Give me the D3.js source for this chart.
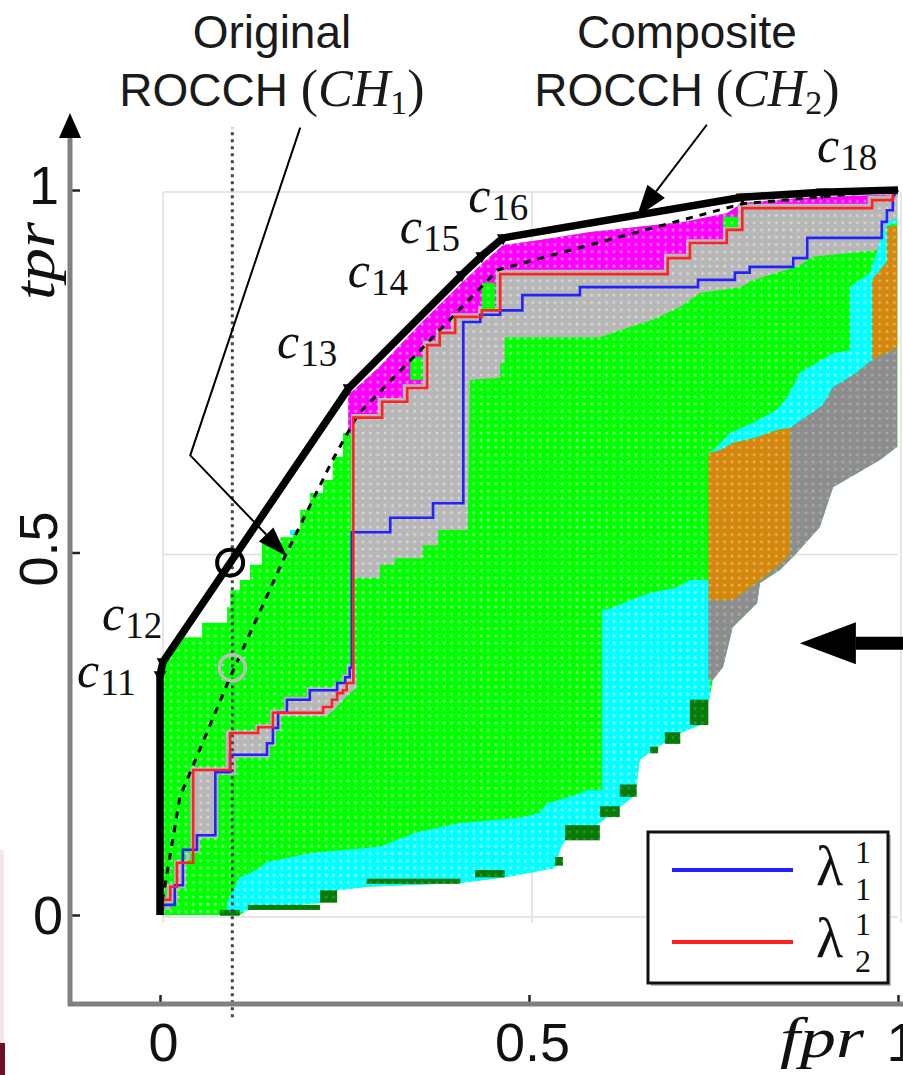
<!DOCTYPE html>
<html>
<head>
<meta charset="utf-8">
<script src="https://cdn.jsdelivr.net/npm/d3@7"></script>
<style>
  body { margin: 0; background: #fff; }
  svg { display: block; }
</style>
</head>
<body>
<svg id="chart" width="903" height="1075"></svg>
<script>
// ---- data (fpr, tpr) ----
const fprTicks = [0, 0.5, 1];
const tprTicks = [0, 0.5, 1];

// composite ROCCH (CH2) vertices, c11..c18
const composite = [[0,0],[0,0.331],[0.004,0.349],[0.256,0.727],[0.409,0.883],[0.436,0.909],[0.465,0.934],[0.789,0.990],[0.897,0.997],[1,1]];
const compositeNames = [null,'11','12','13','14','15','16','17','18',null];

// original ROCCH (CH1)
const original = [[0,0],[0.027,0.163],[0.095,0.328],[0.169,0.494],[0.234,0.628],[0.268,0.690],[0.458,0.890],[0.789,0.981],[1,1]];

// lambda_1^1 (blue) and lambda_2^1 (red) ROC curves
const lambda1 = [[0.003,0],[0.003,0.014],[0.020,0.014],[0.020,0.041],[0.031,0.041],[0.031,0.090],[0.050,0.090],[0.050,0.110],[0.075,0.110],[0.075,0.197],[0.095,0.197],[0.095,0.221],[0.145,0.221],[0.145,0.237],[0.153,0.237],[0.153,0.258],[0.160,0.258],[0.160,0.279],[0.172,0.279],[0.172,0.297],[0.203,0.297],[0.203,0.310],[0.240,0.310],[0.240,0.320],[0.251,0.320],[0.251,0.328],[0.257,0.328],[0.257,0.341],[0.260,0.341],[0.260,0.528],[0.312,0.528],[0.312,0.548],[0.370,0.548],[0.370,0.568],[0.411,0.568],[0.411,0.818],[0.434,0.818],[0.434,0.828],[0.461,0.828],[0.461,0.834],[0.491,0.834],[0.491,0.855],[0.569,0.855],[0.569,0.866],[0.729,0.866],[0.729,0.876],[0.779,0.876],[0.779,0.886],[0.799,0.886],[0.799,0.894],[0.858,0.894],[0.858,0.906],[0.877,0.906],[0.877,0.934],[0.978,0.934],[0.978,0.956],[0.985,0.956],[0.985,0.972],[0.993,0.972],[0.993,0.990],[1,1]];
const lambda2 = [[0.003,0],[0.003,0.021],[0.014,0.021],[0.014,0.039],[0.023,0.039],[0.023,0.072],[0.045,0.072],[0.045,0.200],[0.095,0.200],[0.095,0.251],[0.133,0.251],[0.133,0.259],[0.153,0.259],[0.153,0.279],[0.221,0.279],[0.221,0.287],[0.233,0.287],[0.233,0.297],[0.240,0.297],[0.240,0.306],[0.248,0.306],[0.248,0.310],[0.253,0.310],[0.253,0.320],[0.262,0.320],[0.262,0.686],[0.301,0.686],[0.301,0.708],[0.335,0.708],[0.335,0.727],[0.362,0.727],[0.362,0.786],[0.379,0.786],[0.379,0.803],[0.400,0.803],[0.400,0.825],[0.436,0.825],[0.436,0.834],[0.461,0.834],[0.461,0.884],[0.688,0.884],[0.688,0.906],[0.718,0.906],[0.718,0.927],[0.768,0.927],[0.768,0.945],[0.789,0.945],[0.789,0.975],[0.965,0.975],[0.965,0.986],[0.993,0.986],[0.993,0.997],[1,1]];

// coloured regions of the map
const greenArea = [[0,0],[0,0.331],[0.004,0.349],[0.020,0.366],[0.030,0.383],[0.057,0.383],[0.057,0.403],[0.091,0.403],[0.091,0.425],[0.095,0.425],[0.095,0.448],[0.108,0.448],[0.108,0.462],[0.122,0.462],[0.122,0.483],[0.138,0.483],[0.138,0.513],[0.163,0.513],[0.163,0.521],[0.180,0.521],[0.180,0.531],[0.190,0.531],[0.190,0.559],[0.203,0.559],[0.203,0.582],[0.221,0.582],[0.221,0.600],[0.234,0.600],[0.234,0.632],[0.248,0.632],[0.248,0.665],[0.255,0.665],[0.255,0.717],[0.298,0.757],[0.352,0.815],[0.409,0.872],[0.436,0.898],[0.465,0.924],[0.515,0.931],[0.583,0.942],[0.709,0.956],[0.768,0.968],[0.789,0.982],[0.867,0.989],[0.999,0.994],[0.999,0.646],[0.976,0.628],[0.912,0.590],[0.894,0.535],[0.858,0.494],[0.840,0.476],[0.813,0.458],[0.809,0.430],[0.776,0.397],[0.763,0.342],[0.749,0.324],[0.745,0.301],[0.732,0.262],[0.705,0.251],[0.668,0.228],[0.650,0.214],[0.646,0.182],[0.641,0.163],[0.623,0.149],[0.596,0.127],[0.549,0.103],[0.542,0.090],[0.535,0.065],[0.467,0.052],[0.407,0.044],[0.280,0.039],[0.240,0.034],[0.217,0.017],[0.119,0.007],[0.108,0],[0,0]];
const cyanLow = [[0.743,0.462],[0.718,0.462],[0.701,0.452],[0.664,0.444],[0.637,0.434],[0.606,0.421],[0.599,0.421],[0.599,0.172],[0.579,0.172],[0.556,0.163],[0.524,0.154],[0.515,0.141],[0.488,0.134],[0.407,0.127],[0.348,0.114],[0.298,0.094],[0.207,0.086],[0.145,0.073],[0.131,0.062],[0.108,0.052],[0.099,0.034],[0.091,0.017],[0.091,0.004],[0.108,0.003],[0.119,0.007],[0.217,0.017],[0.240,0.034],[0.280,0.039],[0.407,0.044],[0.467,0.052],[0.535,0.065],[0.542,0.090],[0.549,0.103],[0.596,0.127],[0.623,0.149],[0.641,0.163],[0.646,0.182],[0.650,0.214],[0.668,0.228],[0.705,0.251],[0.732,0.262],[0.745,0.301],[0.745,0.462]];
const cyanHigh = [[0.985,0.956],[0.976,0.931],[0.972,0.917],[0.962,0.886],[0.935,0.866],[0.935,0.779],[0.912,0.775],[0.867,0.748],[0.850,0.714],[0.836,0.697],[0.804,0.679],[0.772,0.665],[0.755,0.646],[0.743,0.637],[0.759,0.641],[0.776,0.651],[0.809,0.659],[0.836,0.669],[0.854,0.672],[0.898,0.703],[0.912,0.728],[0.944,0.748],[0.965,0.766],[0.965,0.876],[0.985,0.901],[0.985,0.950],[0.999,0.956],[0.999,0.961]];
const orangeHigh = [[0.985,0.950],[0.999,0.950],[0.999,0.782],[0.965,0.766],[0.965,0.876],[0.985,0.901]];
const orangeLow = [[0.743,0.637],[0.759,0.641],[0.776,0.651],[0.809,0.659],[0.836,0.669],[0.854,0.672],[0.854,0.497],[0.836,0.480],[0.813,0.462],[0.790,0.444],[0.776,0.434],[0.743,0.434]];
const darkGrayArea = [[0.999,0.782],[0.999,0.646],[0.976,0.628],[0.912,0.590],[0.894,0.535],[0.858,0.494],[0.840,0.476],[0.813,0.458],[0.809,0.430],[0.776,0.397],[0.763,0.342],[0.749,0.324],[0.743,0.324],[0.743,0.434],[0.776,0.434],[0.790,0.444],[0.813,0.462],[0.836,0.480],[0.854,0.497],[0.854,0.672],[0.898,0.703],[0.912,0.728],[0.944,0.748],[0.965,0.766]];
const magentaBand = [[0.255,0.717],[0.298,0.757],[0.352,0.815],[0.409,0.872],[0.436,0.898],[0.465,0.924],[0.515,0.931],[0.583,0.942],[0.709,0.956],[0.768,0.968],[0.789,0.982],[0.867,0.989],[0.999,0.994],[0.999,0.990],[0.993,0.986],[0.965,0.986],[0.965,0.975],[0.789,0.975],[0.789,0.945],[0.768,0.945],[0.768,0.927],[0.718,0.927],[0.718,0.906],[0.688,0.906],[0.688,0.884],[0.461,0.884],[0.461,0.834],[0.436,0.834],[0.436,0.825],[0.400,0.825],[0.400,0.803],[0.379,0.803],[0.379,0.786],[0.362,0.786],[0.362,0.727],[0.335,0.727],[0.335,0.708],[0.301,0.708],[0.301,0.686],[0.262,0.686],[0.262,0.665],[0.255,0.665]];
const grayUpper = [[0.259,0.465],[0.259,0.691],[0.295,0.691],[0.295,0.713],[0.329,0.713],[0.329,0.732],[0.356,0.732],[0.356,0.792],[0.374,0.792],[0.374,0.808],[0.394,0.808],[0.394,0.830],[0.431,0.830],[0.431,0.840],[0.455,0.840],[0.455,0.890],[0.683,0.890],[0.683,0.912],[0.713,0.912],[0.713,0.932],[0.763,0.932],[0.763,0.950],[0.783,0.950],[0.783,0.981],[0.959,0.981],[0.959,0.992],[0.988,0.992],[0.988,0.996],[0.999,0.996],[0.999,0.961],[0.985,0.956],[0.976,0.931],[0.972,0.917],[0.885,0.908],[0.863,0.894],[0.804,0.876],[0.786,0.866],[0.732,0.858],[0.705,0.839],[0.668,0.821],[0.637,0.811],[0.596,0.797],[0.467,0.797],[0.467,0.761],[0.461,0.761],[0.461,0.741],[0.420,0.738],[0.417,0.531],[0.377,0.531],[0.377,0.510],[0.356,0.510],[0.356,0.492],[0.318,0.492],[0.318,0.483],[0.298,0.483],[0.298,0.465]];
const grayLower = [[0.007,0.007],[0.007,0.025],[0.009,0.025],[0.009,0.043],[0.019,0.043],[0.019,0.076],[0.041,0.076],[0.041,0.204],[0.089,0.204],[0.089,0.255],[0.129,0.255],[0.129,0.263],[0.149,0.263],[0.149,0.283],[0.168,0.283],[0.168,0.301],[0.199,0.301],[0.199,0.314],[0.236,0.314],[0.236,0.321],[0.247,0.321],[0.247,0.332],[0.253,0.332],[0.253,0.345],[0.266,0.345],[0.266,0.313],[0.257,0.306],[0.252,0.301],[0.244,0.292],[0.236,0.283],[0.225,0.274],[0.164,0.274],[0.164,0.254],[0.157,0.254],[0.157,0.233],[0.149,0.233],[0.149,0.217],[0.103,0.217],[0.103,0.193],[0.079,0.193],[0.079,0.106],[0.054,0.106],[0.054,0.086],[0.035,0.086],[0.035,0.037],[0.024,0.037],[0.024,0.017],[0.014,0.017],[0.014,0.007]];
// small patches [fpr0, fpr1, tpr0, tpr1]
const greenPatches = [[0.339,0.356,0.738,0.770],[0.436,0.454,0.834,0.872],[0.763,0.783,0.949,0.963]];
const cyanPatches = [[0.176,0.184,0.524,0.531]];
const darkGreenPatches = [[0.081,0.108,-0.001,0.007],[0.119,0.217,0.007,0.014],[0.217,0.240,0.017,0.034],[0.280,0.407,0.043,0.050],[0.427,0.467,0.052,0.062],[0.549,0.596,0.103,0.124],[0.535,0.546,0.068,0.080],[0.596,0.623,0.135,0.150],[0.623,0.646,0.163,0.180],[0.664,0.675,0.223,0.232],[0.684,0.705,0.236,0.252],[0.718,0.743,0.262,0.297]];

// operating points marked with circles, threshold line
const markedFpr = 0.098;
const blackCircle = [0.095, 0.486];
const grayCircle = [0.098, 0.341];

// ---- drawing ----
const svg = d3.select('#chart');
const x = d3.scaleLinear().domain([0, 1]).range([160, 898]);
const y = d3.scaleLinear().domain([0, 1]).range([915, 190]);
const line = d3.line().x(d => x(d[0])).y(d => y(d[1]));
const sans = "'Liberation Sans', Arial, sans-serif";
const serif = "'Liberation Serif', 'Times New Roman', serif";

// textured fills (one cell per 0.01 fpr/tpr)
const fills = {
  green: ['#00ff00', '#8cff8c'],
  gray: ['#b7b7b7', '#d8d8d8'],
  magenta: ['#ff00ff', '#ff8cff'],
  cyan: ['#00ffff', '#a0ffff'],
  orange: ['#d4870d', '#e8b25e'],
  dgray: ['#8d8d8d', '#ababab'],
  dgreen: ['#077a07', '#2e9a2e']
};
const cw = x(0.01) - x(0), ch = y(0) - y(0.01);
const defs = svg.append('defs');
Object.entries(fills).forEach(([k, c]) => {
  const p = defs.append('pattern').attr('id', 'pat-' + k)
    .attr('patternUnits', 'userSpaceOnUse')
    .attr('x', x(0)).attr('y', y(1)).attr('width', cw).attr('height', ch);
  p.append('rect').attr('width', cw).attr('height', ch).attr('fill', c[0]);
  p.append('rect').attr('x', 2.5).attr('y', 2.5).attr('width', 2.5).attr('height', 2.5).attr('fill', c[1]);
});

// left border strip of the page
svg.append('rect').attr('x', 0).attr('y', 850).attr('width', 4).attr('height', 193).attr('fill', '#f2e8e8');
svg.append('rect').attr('x', 0).attr('y', 1043).attr('width', 5).attr('height', 32).attr('fill', '#6d1222');

// grid
const grid = svg.append('g').attr('stroke', '#dedede').attr('stroke-width', 1.5);
fprTicks.forEach(v => grid.append('line').attr('x1', x(v) + 3).attr('x2', x(v) + 3).attr('y1', y(1) + 2).attr('y2', y(0) + 8));
tprTicks.forEach(v => grid.append('line').attr('x1', x(0) + 3).attr('x2', x(1)).attr('y1', y(v) + 2).attr('y2', y(v) + 2));

// regions
const regions = [
  [greenArea, 'green'], [cyanLow, 'cyan'], [cyanHigh, 'cyan'], [orangeHigh, 'orange'],
  [orangeLow, 'orange'], [darkGrayArea, 'dgray'], [magentaBand, 'magenta'],
  [grayUpper, 'gray'], [grayLower, 'gray']
];
svg.append('g').selectAll('path').data(regions).join('path')
  .attr('d', d => line(d[0]) + 'Z')
  .attr('fill', d => 'url(#pat-' + d[1] + ')');

const patch = (data, key) => svg.append('g').selectAll('rect').data(data).join('rect')
  .attr('x', d => x(d[0])).attr('width', d => x(d[1]) - x(d[0]))
  .attr('y', d => y(d[3])).attr('height', d => y(d[2]) - y(d[3]))
  .attr('fill', 'url(#pat-' + key + ')');
patch(greenPatches, 'green');
patch(cyanPatches, 'cyan');
patch(darkGreenPatches, 'dgreen');

// threshold line
svg.append('line')
  .attr('x1', x(markedFpr)).attr('x2', x(markedFpr))
  .attr('y1', y(-0.141)).attr('y2', y(1.086))
  .attr('stroke', '#444').attr('stroke-width', 3).attr('stroke-dasharray', '3,4');

// original ROCCH (dashed)
svg.append('path').attr('d', line(original)).attr('fill', 'none')
  .attr('stroke', '#000').attr('stroke-width', 3).attr('stroke-dasharray', '7,7');

// ROC curves
svg.append('path').attr('d', line(lambda1)).attr('fill', 'none')
  .attr('stroke', '#2222ff').attr('stroke-width', 2.6);
svg.append('path').attr('d', line(lambda2)).attr('fill', 'none')
  .attr('stroke', '#ff2222').attr('stroke-width', 2.6);

// composite ROCCH
svg.append('path').attr('d', line(composite)).attr('fill', 'none')
  .attr('stroke', '#000').attr('stroke-width', 7.5).attr('stroke-linejoin', 'round');
svg.append('g').selectAll('path').data(composite.filter((d, i) => compositeNames[i])).join('path')
  .attr('transform', d => `translate(${x(d[0])},${y(d[1])}) rotate(180)`)
  .attr('d', d3.symbol(d3.symbolTriangle, 70))
  .attr('fill', '#000');

// c labels
const labelNudge = { '11': [-83, 12], '12': [-61, -32], '13': [-72, -30], '14': [-114, 12], '15': [-82, -13], '16': [-35, -26], '18': [-5, -30] };
composite.forEach((d, i) => {
  const n = compositeNames[i];
  if (!n || !labelNudge[n]) return;
  const t = svg.append('text')
    .attr('x', x(d[0]) + labelNudge[n][0]).attr('y', y(d[1]) + labelNudge[n][1])
    .attr('font-family', serif).attr('fill', '#111');
  t.append('tspan').attr('font-style', 'italic').attr('font-size', 50).text('c');
  t.append('tspan').attr('font-size', 37).attr('dx', 1).attr('dy', 8).text(n);
});

// circles
svg.append('circle').attr('cx', x(blackCircle[0])).attr('cy', y(blackCircle[1])).attr('r', 13)
  .attr('fill', 'none').attr('stroke', '#000').attr('stroke-width', 4);
svg.append('circle').attr('cx', x(grayCircle[0])).attr('cy', y(grayCircle[1])).attr('r', 13)
  .attr('fill', 'none').attr('stroke', '#bdbdbd').attr('stroke-width', 3.5);

// annotation arrows
function arrow(pts, width, headLen, headHalf) {
  const p = pts.map(d => [x(d[0]), y(d[1])]);
  const a = p[p.length - 2], b = p[p.length - 1];
  const L = Math.hypot(b[0] - a[0], b[1] - a[1]);
  const ux = (b[0] - a[0]) / L, uy = (b[1] - a[1]) / L;
  const base = [b[0] - ux * headLen, b[1] - uy * headLen];
  const shaft = p.slice(0, -1).concat([base]);
  svg.append('path').attr('d', d3.line()(shaft)).attr('fill', 'none')
    .attr('stroke', '#000').attr('stroke-width', width);
  svg.append('path').attr('d', d3.line()([b, [base[0] - uy * headHalf, base[1] + ux * headHalf], [base[0] + uy * headHalf, base[1] - ux * headHalf]]) + 'Z')
    .attr('fill', '#000');
}
arrow([[0.190, 1.086], [0.041, 0.634], [0.172, 0.495]], 2, 30, 10);
arrow([[0.741, 1.090], [0.646, 0.963]], 2, 32, 11);
arrow([[1.01, 0.375], [0.867, 0.375]], 13, 56, 21);

// titles
function title(cx, word, sub) {
  svg.append('text').attr('x', cx).attr('y', 48).attr('text-anchor', 'middle')
    .attr('font-family', sans).attr('font-size', 46).attr('fill', '#1a1a1a').text(word);
  const t = svg.append('text').attr('x', cx).attr('y', 106).attr('text-anchor', 'middle')
    .attr('fill', '#1a1a1a');
  t.append('tspan').attr('font-family', sans).attr('font-size', 46).text('ROCCH\u00a0');
  t.append('tspan').attr('font-family', serif).attr('font-size', 52).text('(');
  t.append('tspan').attr('font-family', serif).attr('font-style', 'italic').attr('font-size', 52).text('CH');
  t.append('tspan').attr('font-family', serif).attr('font-size', 34).attr('dy', 8).text(sub);
  t.append('tspan').attr('font-family', serif).attr('font-size', 52).attr('dy', -8).text(')');
}
title(272, 'Original', '1');
title(687, 'Composite', '2');

// axes
const yAxis = d3.axisLeft(y).tickValues(tprTicks).tickSize(-10).tickSizeOuter(0).tickFormat(d3.format('~g'));
const gy = svg.append('g').attr('transform', 'translate(70,0)').call(yAxis);
gy.select('.domain').remove();
gy.selectAll('.tick line').attr('stroke', '#222').attr('stroke-width', 2.5);
gy.selectAll('.tick text')
  .attr('font-family', sans).attr('font-size', 54).attr('fill', '#111')
  .attr('text-anchor', 'middle').attr('x', 0).attr('y', 0).attr('dy', null)
  .attr('transform', d => d === 0.5 ? 'translate(-13,-4) rotate(-90)' : (d === 1 ? 'translate(-26,13)' : 'translate(-22,18)'));

const xAxis = d3.axisBottom(x).tickValues(fprTicks).tickSize(-9).tickSizeOuter(0).tickFormat(d3.format('~g'));
const gx = svg.append('g').attr('transform', 'translate(0,1004)').call(xAxis);
gx.select('.domain').remove();
gx.selectAll('.tick line').attr('stroke', '#222').attr('stroke-width', 2.5);
gx.selectAll('.tick text')
  .attr('font-family', sans).attr('font-size', 54).attr('fill', '#111')
  .attr('y', 57).attr('dy', null).attr('x', 3);

svg.append('line').attr('x1', 70).attr('x2', 70).attr('y1', 1006).attr('y2', 136)
  .attr('stroke', '#808080').attr('stroke-width', 5);
svg.append('line').attr('x1', 68).attr('x2', 903).attr('y1', 1004).attr('y2', 1004)
  .attr('stroke', '#808080').attr('stroke-width', 5);
svg.append('path').attr('d', 'M70,113L59,138L81,138Z').attr('fill', '#000');

svg.append('text').attr('transform', 'translate(54,261) rotate(-90)')
  .attr('text-anchor', 'middle').attr('font-family', serif).attr('font-style', 'italic')
  .attr('font-size', 56).attr('fill', '#111')
  .attr('textLength', 78).attr('lengthAdjust', 'spacingAndGlyphs').text('tpr');
svg.append('text').attr('x', 780).attr('y', 1057)
  .attr('font-family', serif).attr('font-style', 'italic')
  .attr('font-size', 56).attr('fill', '#111')
  .attr('textLength', 84).attr('lengthAdjust', 'spacingAndGlyphs').text('fpr');

// legend
const lg = svg.append('g');
lg.append('rect').attr('x', 651).attr('y', 835).attr('width', 240).attr('height', 151).attr('fill', '#bdbdbd');
lg.append('rect').attr('x', 648).attr('y', 832).attr('width', 240).attr('height', 151)
  .attr('fill', '#fff').attr('stroke', '#111').attr('stroke-width', 3);
const legendItems = [['#2222ff', '1'], ['#ff2222', '2']];
legendItems.forEach((it, i) => {
  const yy = 870 + i * 72;
  lg.append('line').attr('x1', 672).attr('x2', 793).attr('y1', yy).attr('y2', yy)
    .attr('stroke', it[0]).attr('stroke-width', 4);
  lg.append('text').attr('x', 816).attr('y', yy + 15)
    .attr('font-family', serif).attr('font-size', 56).attr('fill', '#111').text('\u03bb');
  lg.append('text').attr('x', 855).attr('y', yy - 7)
    .attr('font-family', serif).attr('font-size', 32).attr('fill', '#111').text('1');
  lg.append('text').attr('x', 855).attr('y', yy + 30)
    .attr('font-family', serif).attr('font-size', 32).attr('fill', '#111').text(it[1]);
});
</script>
</body>
</html>
